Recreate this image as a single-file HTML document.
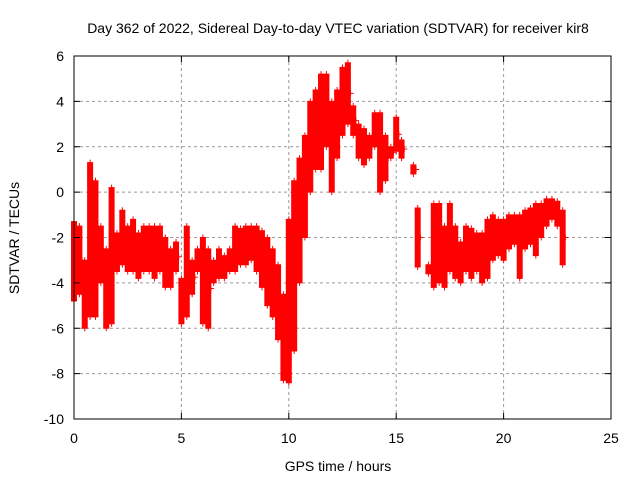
<!DOCTYPE html>
<html><head><meta charset="utf-8"><style>
body{margin:0;background:#fff;}
svg text{font-family:"Liberation Sans",sans-serif;font-size:14px;fill:#000;}
</style></head><body>
<svg id="chart" width="640" height="480" xmlns="http://www.w3.org/2000/svg">
<rect width="640" height="480" fill="#fff"/>
<text x="338" y="33" text-anchor="middle">Day 362 of 2022, Sidereal Day-to-day VTEC variation (SDTVAR) for receiver kir8</text>
<text x="338" y="471" text-anchor="middle">GPS time / hours</text>
<text transform="translate(19,238) rotate(-90)" text-anchor="middle">SDTVAR / TECUs</text>
<g id="grid"></g>
<g id="marks"></g>
<rect x="74" y="56" width="537" height="363" fill="none" stroke="#000" stroke-width="1"/>
<g id="ticks"></g>
</svg>
<script>
const xTicks=[0,5,10,15,20,25];
const yTicks=[6,4,2,0,-2,-4,-6,-8,-10];
const times=[0,0.25,0.5,0.75,1,1.25,1.5,1.75,2,2.25,2.5,2.75,3,3.25,3.5,3.75,4,4.25,4.5,4.75,5,5.25,5.5,5.75,6,6.25,6.5,6.75,7,7.25,7.5,7.75,8,8.25,8.5,8.75,9,9.25,9.5,9.75,10,10.25,10.5,10.75,11,11.25,11.5,11.75,12,12.25,12.5,12.75,13,13.25,13.5,13.75,14,14.25,14.5,14.75,15,15.25,15.8,16,16.5,16.75,17,17.25,17.5,17.75,18,18.25,18.5,18.75,19,19.25,19.5,19.75,20,20.25,20.5,20.75,21,21.25,21.5,21.75,22,22.25,22.5,22.75];
const lows=[-4.8,-4.5,-6,-5.5,-5.5,-4,-6,-5.8,-3.5,-3.2,-3.5,-3.5,-3.8,-3.5,-3.5,-3.8,-3.5,-4.2,-4.2,-3.5,-5.8,-5.5,-4.5,-3.5,-5.8,-6,-4,-3.8,-3.8,-3.5,-3.5,-3.2,-3.2,-3,-3.5,-4.2,-5,-5.5,-6.5,-8.3,-8.4,-7,-4,-2,0,1,1,2,0,1.5,2.5,3,2.5,1.5,1.2,1.5,2,0,0.5,1.5,1.8,1.5,0.8,-3.3,-3.6,-4.2,-4,-4.2,-3.5,-3.8,-4,-3.5,-3.8,-3.5,-4,-3.8,-3,-2.8,-3,-2.5,-2.3,-3.8,-2.5,-2.3,-2.8,-2,-1.5,-1.2,-1.5,-3.2];
const highs=[-1.3,-1.5,-3,1.3,0.5,-1.5,-2.5,0.2,-1.8,-0.8,-1.5,-1.2,-1.8,-1.5,-1.5,-1.5,-1.5,-2,-2.5,-2.2,-3.8,-1.5,-3,-2.5,-2,-2.5,-3,-2.5,-2.8,-2.5,-1.5,-1.6,-1.5,-1.5,-1.5,-1.7,-2,-2.5,-3.2,-4.5,-1.2,0.5,1.5,2.5,4,4.5,5.2,5.2,4,4.5,5.5,5.7,3.8,3,2.8,2.5,3.5,3.5,2.5,2,3.3,2.3,1.2,-0.7,-3.2,-0.5,-0.5,-1.5,-0.5,-1.5,-2.2,-1.5,-1.6,-1.8,-1.8,-1.2,-1,-1.2,-1.2,-1,-1,-1,-0.8,-0.7,-0.5,-0.5,-0.3,-0.3,-0.4,-0.8];
const X0=74,X1=611,Y0=419,Y1=56;
const xs=v=>X0+(v-0)/(25-0)*(X1-X0);
const ys=v=>Y0-(v+10)/16*(Y0-Y1);
const NS="http://www.w3.org/2000/svg";
const grid=document.getElementById('grid'),ticks=document.getElementById('ticks'),marks=document.getElementById('marks');
function mk(tag,attrs,parent){const e=document.createElementNS(NS,tag);for(const k in attrs)e.setAttribute(k,attrs[k]);parent.appendChild(e);return e;}
xTicks.forEach(t=>{const x=xs(t);
 if(t>0&&t<25){const g=mk('line',{x1:x,x2:x,y1:Y1,y2:Y0,stroke:'#999','stroke-dasharray':'3,3'},grid);}
 mk('line',{x1:x,x2:x,y1:Y0,y2:Y0-6,stroke:'#000'},ticks);mk('line',{x1:x,x2:x,y1:Y1,y2:Y1+6,stroke:'#000'},ticks);
 const l=mk('text',{x:x,y:Y0+24,'text-anchor':'middle'},ticks);l.textContent=t;
 
 });
yTicks.forEach(t=>{const y=ys(t);
 if(t>-10&&t<6){const g=mk('line',{x1:X0,x2:X1,y1:y,y2:y,stroke:'#999','stroke-dasharray':'3,3'},grid);}
 mk('line',{x1:X0,x2:X0+6,y1:y,y2:y,stroke:'#000'},ticks);mk('line',{x1:X1,x2:X1-6,y1:y,y2:y,stroke:'#000'},ticks);
 const l=mk('text',{x:X0-10,y:y+5,'text-anchor':'end'},ticks);l.textContent=t;
 
 });
function plus(x,y){const p=mk('path',{d:`M${x-3},${y}h6M${x},${y-3}v6`,stroke:'#f00','stroke-width':1},marks);
 
 }
times.forEach((t,i)=>{const x=xs(t),yl=ys(lows[i]),yh=ys(highs[i]);
 const b=mk('rect',{x:x-3,y:yh,width:6,height:Math.max(1,yl-yh),fill:'#f00'},marks);
 
 
 plus(x,yl);plus(x,yh);plus(x+2.7,(yl+yh)/2);});
</script>
</body></html>
